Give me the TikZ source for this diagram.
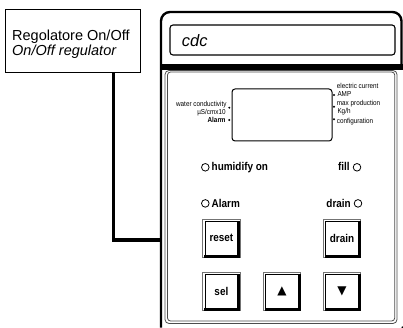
\documentclass[tikz,border=0pt]{standalone}
\usepackage{fontspec}
\setmainfont{Liberation Sans}
\newfontfamily\narrowfont[FakeStretch=0.88]{Liberation Sans}
\newfontfamily\symfont{DejaVu Sans}
\begin{document}
\begin{tikzpicture}[x=1pt,y=-1pt,
  wire/.style={line width=3.6pt},
  frame/.style={line width=2.4pt},
  smalllbl/.style={font=\narrowfont\fontsize{7.2}{8}\selectfont, inner sep=0pt, text height=5.2pt, text depth=0pt},
  boldsmall/.style={smalllbl, font=\narrowfont\bfseries\fontsize{7.2}{8}\selectfont},
  boldlbl/.style={font=\narrowfont\bfseries\fontsize{11.3}{13}\selectfont, inner sep=0pt},
  led/.style={circle, draw, line width=0.8pt, minimum size=7.6pt, inner sep=0pt},
  btn/.style={draw=black!55, line width=0.8pt, minimum width=37.3pt, minimum height=38pt, inner sep=0pt, font=\narrowfont\bfseries\fontsize{11.3}{13}\selectfont},
  symbtn/.style={btn, font=\symfont\fontsize{12}{12}\selectfont},
  dot/.style={circle, fill, inner sep=0pt, minimum size=2.2pt},
  bigtxt/.style={anchor=base west, inner sep=0pt, font=\fontsize{14.5}{16}\selectfont}]
\useasboundingbox (0,0) rectangle (403,328);

% label box
\node[draw, line width=1pt, minimum width=135pt, minimum height=63pt, inner sep=0pt] (lbl) at (72.5,41.5) {};
\node[bigtxt] (lblA) at (12,40.7) {Regolatore On/Off};
\node[bigtxt, font=\fontsize{14.5}{16}\selectfont\itshape] (lblB) at (12,56) {On/Off regulator};

% device frame
\draw[frame, rounded corners=9pt] (161,327.5) -- (161,12) -- (401.5,12) -- (401.5,70);
\coordinate (devL) at (161,240);
\draw[wire] ([xshift=40.8pt]lbl.south) |- (devL);
\fill (160,64.5) rectangle (403,70.5);

% cdc display
\node[draw, line width=1.1pt, rounded corners=3pt, minimum width=225pt, minimum height=30pt, inner sep=0pt] (cdcbox) at (282.5,40) {};
\node[anchor=base west, inner sep=0pt, font=\fontsize{16.5}{18}\selectfont\itshape] (cdc) at (181.7,46.7) {cdc};

% inner panel
\draw[black!70, line width=0.8pt, rounded corners=4pt] (165,70.5) rectangle (397,323.5);
\draw[black!70, line width=0.8pt, rounded corners=3pt] (167.5,72) rectangle (394.7,321);
\fill (402.3,327.3) circle (1pt);

% LCD
\node[draw, line width=1pt, rounded corners=3pt, minimum width=100pt, minimum height=52pt, inner sep=0pt] (lcd) at (282,115) {};
\node[dot] (dL1) at (229.3,107.7) {};
\node[dot] (dL2) at (229.3,120) {};
\node[dot] (dR1) at (334,95) {};
\node[dot] (dR2) at (334,106.7) {};
\node[dot] (dR3) at (334,119.3) {};

\node[smalllbl, anchor=east] (wc) at (226.7,104.3) {water conductivity};
\node[smalllbl, anchor=east] (us) at (225.8,111.7) {µS/cmx10};
\node[boldsmall, anchor=east] (al) at (225.8,120) {Alarm};
\node[smalllbl, anchor=west] (ec) at (336.7,85.7) {electric current};
\node[smalllbl, anchor=west] (amp) at (337.3,94) {AMP};
\node[smalllbl, anchor=west] (mp) at (336.7,102.7) {max production};
\node[smalllbl, anchor=west] (kg) at (337.3,110.7) {Kg/h};
\node[smalllbl, anchor=west] (cf) at (336.7,120.7) {configuration};

% LEDs
\node[led] (ledH) at (205.3,167.3) {};
\node[boldlbl, anchor=base west] (hum) at (211.5,171) {humidify on};
\node[led] (ledF) at (357,167.3) {};
\node[boldlbl, anchor=base east] (fill) at (349.8,171) {fill};
\node[led] (ledA) at (205.3,203.4) {};
\node[boldlbl, anchor=base west] (alarm) at (211.5,207.3) {Alarm};
\node[led] (ledD) at (358,203.4) {};
\node[boldlbl, anchor=base east] (drn) at (351,207.3) {drain};

% buttons
\node[btn] (reset) at (221.4,238.3) {reset};
\node[btn] (drainb) at (342,238.3) {drain};
\node[btn] (sel) at (221.4,291.5) {sel};
\node[symbtn] (up) at (282,291.5) {▲};
\node[symbtn] (down) at (342,291.5) {▼};
\foreach \b in {reset,drainb,sel,up,down}{
  \draw[line width=0.8pt] ([shift={(2.6,2.6)}]\b.north west) rectangle ([shift={(-2.6,-2.6)}]\b.south east);
  \draw[line width=2.6pt] ([shift={(1.8,-1.3)}]\b.south west) -- ([shift={(-1.3,-1.3)}]\b.south east) -- ([shift={(-1.3,1.8)}]\b.north east);
}
\end{tikzpicture}
\end{document}
